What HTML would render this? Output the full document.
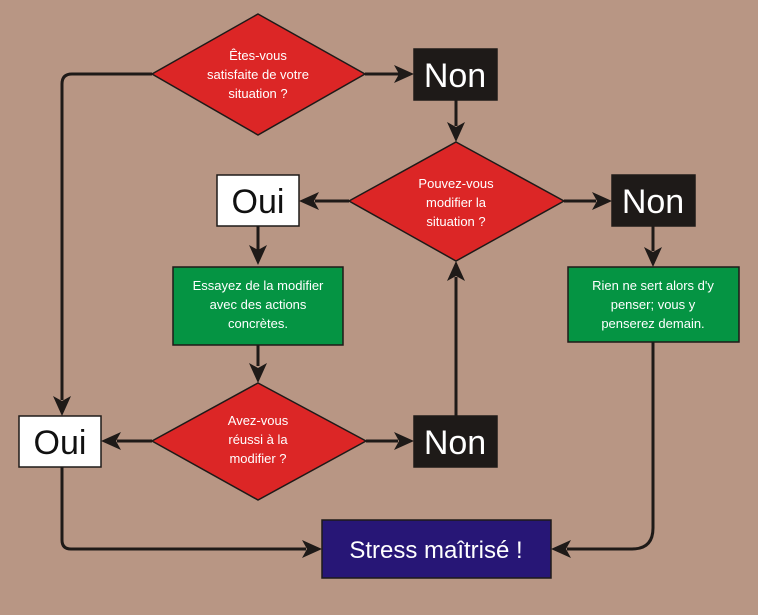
<!DOCTYPE html>
<html><head><meta charset="utf-8"><style>
html,body{margin:0;padding:0;background:#b89684;}
svg{display:block}
text{font-family:"Liberation Sans",sans-serif;fill:#fff;text-anchor:middle}
</style></head><body>
<svg width="758" height="615" viewBox="0 0 758 615" xmlns="http://www.w3.org/2000/svg">
<defs>
<marker id="a" viewBox="0 0 10 10" refX="10" refY="5" markerWidth="7" markerHeight="7" orient="auto" markerUnits="userSpaceOnUse">
</marker>
</defs>
<rect width="758" height="615" fill="#b89684"/>
<g stroke="#1e1a18" stroke-width="3" fill="none">
<path d="M152 74 H72 Q62 74 62 84 V400"/>
<path d="M365 74 H400"/>
<path d="M456 100 V126"/>
<path d="M349 201 H315"/>
<path d="M564 201 H596"/>
<path d="M258 226 V250"/>
<path d="M653 226 V251"/>
<path d="M258 345 V366"/>
<path d="M152 441 H117"/>
<path d="M366 441 H398"/>
<path d="M456 416 V277"/>
<path d="M62 467 V540 Q62 549 71 549 H306"/>
<path d="M653 342 V528 Q653 549 632 549 H567"/>
</g>
<g fill="#1e1a18">
<polygon points="414,74 394,65 399,74 394,83"/>
<polygon points="456,142 447,122 456,127 465,122"/>
<polygon points="299,201 319,192 314,201 319,210"/>
<polygon points="612,201 592,192 597,201 592,210"/>
<polygon points="258,265 249,245 258,250 267,245"/>
<polygon points="653,267 644,247 653,252 662,247"/>
<polygon points="258,383 249,363 258,368 267,363"/>
<polygon points="62,416 53,396 62,401 71,396"/>
<polygon points="101,441 121,432 116,441 121,450"/>
<polygon points="414,441 394,432 399,441 394,450"/>
<polygon points="456,261 447,281 456,276 465,281"/>
<polygon points="322,549 302,540 307,549 302,558"/>
<polygon points="551,549 571,540 566,549 571,558"/>
</g>
<g stroke="#1e1a18" stroke-width="1.5">
<polygon points="258,14 365,74 258,135 152,74" fill="#dc2626"/>
<polygon points="456,142 564,201 456,261 349,201" fill="#dc2626"/>
<polygon points="258,383 366,441 258,500 152,441" fill="#dc2626"/>
<rect x="414" y="49" width="83" height="51" fill="#1e1a18"/>
<rect x="612" y="175" width="83" height="51" fill="#1e1a18"/>
<rect x="414" y="416" width="83" height="51" fill="#1e1a18"/>
<rect x="217" y="175" width="82" height="51" fill="#fff"/>
<rect x="19" y="416" width="82" height="51" fill="#fff"/>
<rect x="173" y="267" width="170" height="78" fill="#059443"/>
<rect x="568" y="267" width="171" height="75" fill="#059443"/>
<rect x="322" y="520" width="229" height="58" fill="#271676"/>
</g>
<g font-size="13">
<text x="258" y="60">Êtes-vous</text>
<text x="258" y="79">satisfaite de votre</text>
<text x="258" y="98">situation ?</text>
<text x="456" y="188">Pouvez-vous</text>
<text x="456" y="207">modifier la</text>
<text x="456" y="226">situation ?</text>
<text x="258" y="425">Avez-vous</text>
<text x="258" y="444">réussi à la</text>
<text x="258" y="463">modifier ?</text>
<text x="258" y="290">Essayez de la modifier</text>
<text x="258" y="309">avec des actions</text>
<text x="258" y="328">concrètes.</text>
<text x="653" y="290">Rien ne sert alors d'y</text>
<text x="653" y="309">penser;  vous y</text>
<text x="653" y="328">penserez demain.</text>
</g>
<g font-size="34">
<text x="455" y="87">Non</text>
<text x="653" y="213">Non</text>
<text x="455" y="454">Non</text>
<text x="258" y="213" style="fill:#111">Oui</text>
<text x="60" y="454" style="fill:#111">Oui</text>
</g>
<text x="436" y="558" font-size="24">Stress maîtrisé !</text>
</svg>
</body></html>
